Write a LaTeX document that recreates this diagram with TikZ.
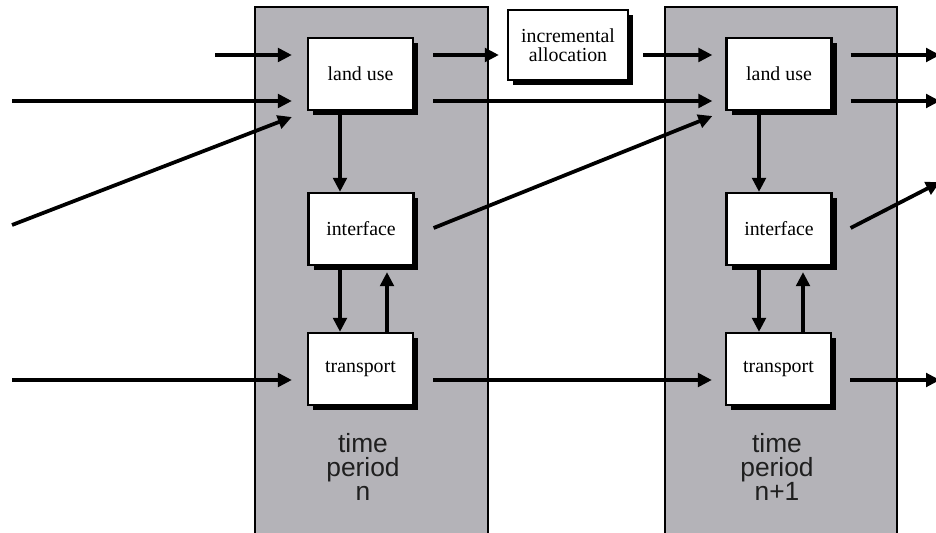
\documentclass[tikz,border=0pt]{standalone}
\usepackage{fontspec}
\setmainfont{Liberation Serif}
\setsansfont{Liberation Sans}
\usetikzlibrary{arrows.meta,calc,shadows}
\definecolor{panelgray}{RGB}{180,179,184}
\begin{document}
\begin{tikzpicture}[x=0.02cm,y=-0.02cm,
  panel/.style={draw=black, line width=0.055cm, fill=panelgray},
  box/.style={draw=black, line width=0.045cm, fill=white, minimum width=2.1cm,
    minimum height=1.44cm, inner sep=0pt, align=center,
    font=\fontsize{11.3}{11}\selectfont,
    drop shadow={shadow xshift=0.1cm, shadow yshift=-0.1cm, opacity=1, fill=black}},
  arr/.style={line width=0.075cm, -{Triangle[length=0.28cm,width=0.27cm]}},
  period/.style={font=\sffamily\fontsize{15}{13.8}\selectfont, align=center, text=black!88}]
\path[use as bounding box] (0,0) rectangle (936,533);
% panels
\path[panel] (255,7) rectangle (488,545);
\path[panel] (665,7) rectangle (897,545);
% boxes
\node[box] (lu1) at (360.5,74) {land use};
\node[box] (if1) at (361,229) {interface};
\node[box] (tr1) at (360.5,369) {transport};
\node[box, minimum width=2.4cm, minimum height=1.4cm] (inc) at (568,45) {incremental\\allocation};
\node[box] (lu2) at (779,74) {land use};
\node[box] (if2) at (779,229) {interface};
\node[box] (tr2) at (778.5,369) {transport};
% labels
\node[period] (t1) at (363,467) {time\\period\\n};
\node[period] (t2) at (777,467) {time\\period\\n+1};
% free ends
\coordinate (in1) at (215,55);
\coordinate (in2) at (12,101);
\coordinate (in3) at (12,225);
\coordinate (in4) at (12,380);
\coordinate (out1) at (940,55);
\coordinate (out2) at (940,101);
\coordinate (out3) at (940,182);
\coordinate (out4) at (940,380);
% inputs
\draw[arr] (in1) -- ($(lu1.west)+(-15,-19)$);
\draw[arr] (in2) -- ($(lu1.west)+(-15,27)$);
\draw[arr] (in3) -- ($(lu1.west)+(-15,43)$);
\draw[arr] (in4) -- ($(tr1.west)+(-15,11)$);
% period n internal
\draw[arr] ($(lu1.south)+(-20.5,0)$) -- ($(if1.north)+(-21,0)$);
\draw[arr] ($(if1.south)+(-21,0)$) -- ($(tr1.north)+(-20.5,0)$);
\draw[arr] ($(tr1.north)+(26.5,0)$) -- ($(if1.south)+(26,6)$);
% between periods
\draw[arr] ($(lu1.east)+(19,-19)$) -- ($(inc.west)+(-8,10)$);
\draw[arr] ($(inc.east)+(14,10)$) -- ($(lu2.west)+(-13,-19)$);
\draw[arr] ($(lu1.east)+(19,27)$) -- ($(lu2.west)+(-13,27)$);
\draw[arr] ($(if1.east)+(19,-1)$) -- ($(lu2.west)+(-13,42)$);
\draw[arr] ($(tr1.east)+(19,11)$) -- ($(tr2.west)+(-13,11)$);
% period n+1 internal
\draw[arr] ($(lu2.south)+(-20,0)$) -- ($(if2.north)+(-20,0)$);
\draw[arr] ($(if2.south)+(-20,0)$) -- ($(tr2.north)+(-19.5,0)$);
\draw[arr] ($(tr2.north)+(24.5,0)$) -- ($(if2.south)+(24,6)$);
% outputs
\draw[arr] ($(lu2.east)+(18,-19)$) -- (out1);
\draw[arr] ($(lu2.east)+(18,27)$) -- (out2);
\draw[arr] ($(if2.east)+(18,-1)$) -- (out3);
\draw[arr] ($(tr2.east)+(18,11)$) -- (out4);
\end{tikzpicture}
\end{document}
